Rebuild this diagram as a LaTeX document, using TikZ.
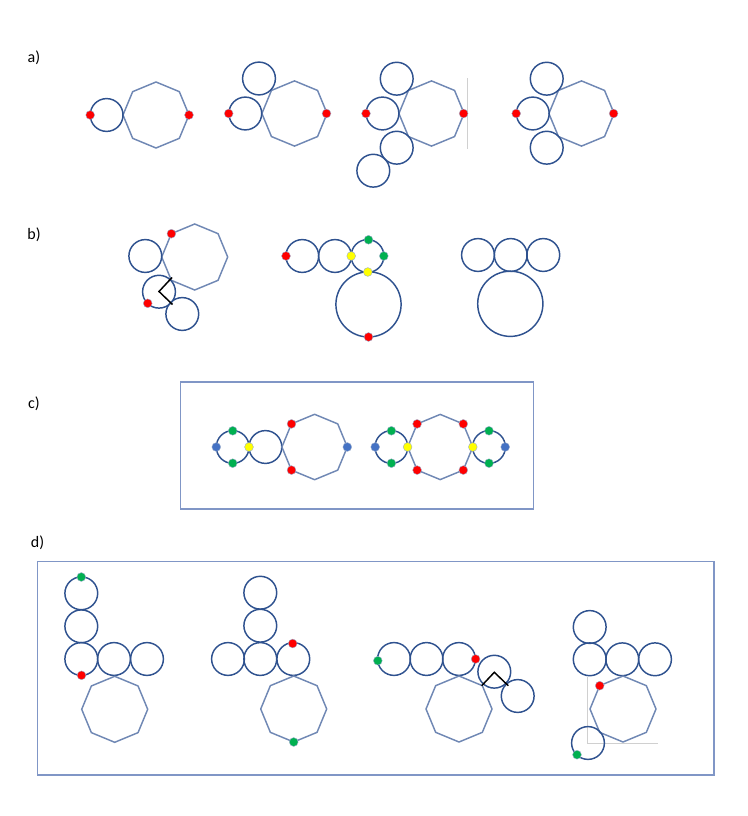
\documentclass[tikz,border=0pt]{standalone}
\usepackage{fontspec}
\setmainfont{Carlito}
\definecolor{cdark}{HTML}{2F528F}
\definecolor{coct}{HTML}{7088B4}
\definecolor{cframe}{HTML}{8096C6}
\definecolor{cred}{HTML}{FF0000}
\definecolor{cgreen}{HTML}{00B050}
\definecolor{cyell}{HTML}{FFFF00}
\definecolor{cblue}{HTML}{4472C4}
\definecolor{cgrayl}{HTML}{D0D0D0}
\newcommand{\octag}[3]{\draw[octline] (#1,#2) +(0:#3) \foreach \a in {45,90,...,315}{ -- +(\a:#3)} -- cycle;}
\newcommand{\rg}[2]{\draw[ring] (#1,#2) circle[radius=16.4];}
\newcommand{\pt}[3]{\filldraw[dotst,fill=#1] (#2,#3) circle[radius=4.4];}
\begin{document}
\begin{tikzpicture}[x=0.75pt,y=-0.75pt,
  ring/.style={draw=cdark,line width=1.1pt},
  octline/.style={draw=coct,line width=1.1pt,line join=miter},
  dotst/.style={draw=coct!70,line width=0.3pt},
  framest/.style={draw=cframe,line width=0.9pt},
  lbl/.style={font=\fontsize{12pt}{14pt}\selectfont,inner sep=0pt},
  bent/.style={draw=black,line width=1.1pt},
  thin/.style={draw=cgrayl,line width=0.6pt}]
\useasboundingbox (0,0) rectangle (747,816);
% labels
\node[lbl] (la) at (34,58) {a)};
\node[lbl] (lb) at (34,235) {b)};
\node[lbl] (lc) at (34,404) {c)};
\node[lbl] (ld) at (37.5,543) {d)};
% ---- row a ----
\octag{156}{115}{33}
\rg{106.6}{115}
\pt{cred}{90.2}{115}
\pt{cred}{189}{115}
%
\octag{294.5}{113.5}{32.6}
\rg{245.3}{113.5}
\rg{259}{78.5}
\pt{cred}{228.7}{113.5}
\pt{cred}{326.5}{113.5}
%
\draw[thin] (467.3,78.3) -- (467.3,149.3);
\octag{431.5}{113.5}{32.6}
\rg{382.5}{113.5}
\rg{396.7}{78.7}
\rg{396.7}{147.7}
\rg{373.3}{170.7}
\pt{cred}{366}{113.5}
\pt{cred}{463.6}{113.5}
%
\octag{581.5}{113.5}{32.6}
\rg{532.8}{113.5}
\rg{546.7}{78.7}
\rg{546.7}{147.7}
\pt{cred}{516.2}{113.5}
\pt{cred}{613.6}{113.5}
% ---- row b ----
\octag{194.7}{257}{33}
\rg{145.3}{256}
\rg{159}{291.7}
\rg{182.3}{314}
\draw[bent] (172,277.5) -- (159,291.5) -- (172.5,304.5);
\pt{cred}{171.4}{233.7}
\pt{cred}{147.7}{303.3}
%
\rg{302.3}{256}
\rg{335}{256}
\rg{367.5}{256}
\draw[ring] (368.5,304.4) circle[radius=32.6];
\pt{cred}{286}{256}
\pt{cred}{368.5}{337}
\pt{cgreen}{368.5}{239.8}
\pt{cgreen}{383.8}{256}
\pt{cyell}{351.2}{256}
\pt{cyell}{367.8}{272}
%
\rg{478}{255}
\rg{510.7}{255}
\rg{543.3}{255}
\draw[ring] (510.3,303.8) circle[radius=32.6];
% ---- row c ----
\draw[framest] (180.3,382) rectangle (533.7,509);
\rg{232.7}{447}
\rg{265.4}{447}
\octag{314.6}{447}{32.7}
\pt{cblue}{216.3}{447}
\pt{cblue}{347.3}{447}
\pt{cgreen}{232.7}{430.8}
\pt{cgreen}{232.7}{463.2}
\pt{cyell}{249}{447}
\pt{cred}{291.5}{423.9}
\pt{cred}{291.5}{470.1}
%
\octag{440.2}{447}{32.6}
\rg{391.4}{447}
\rg{489}{447}
\pt{cblue}{375.2}{447}
\pt{cblue}{505.2}{447}
\pt{cgreen}{391.4}{430.8}
\pt{cgreen}{391.4}{463.2}
\pt{cgreen}{489}{430.8}
\pt{cgreen}{489}{463.2}
\pt{cyell}{407.6}{447}
\pt{cyell}{472.8}{447}
\pt{cred}{417.1}{423.9}
\pt{cred}{463.3}{423.9}
\pt{cred}{417.1}{470.1}
\pt{cred}{463.3}{470.1}
% ---- row d ----
\draw[framest] (37.7,561.7) rectangle (714,775);
\rg{81.3}{593.3}
\rg{81.3}{626.3}
\rg{81.3}{659}
\rg{114}{659}
\rg{147}{659}
\octag{114.7}{709.3}{33}
\pt{cgreen}{81.3}{577}
\pt{cred}{81.5}{675.3}
%
\rg{260.3}{592.7}
\rg{260.3}{625.7}
\rg{228}{659}
\rg{260.3}{659}
\rg{293.3}{659}
\octag{293.7}{709}{33}
\pt{cred}{292.7}{643.5}
\pt{cgreen}{293.7}{742}
%
\rg{394}{659}
\rg{426.5}{659}
\rg{459}{659}
\rg{494.3}{671.7}
\rg{517.7}{696}
\octag{459}{709}{33}
\draw[bent] (481.7,685.7) -- (494.3,672.3) -- (508.3,685.7);
\pt{cgreen}{377.8}{660.7}
\pt{cred}{475.6}{659}
%
\draw[thin] (587.3,676.7) -- (587.3,743.7) -- (658.3,743.7);
\rg{589.7}{627}
\rg{589.7}{659.3}
\rg{622.3}{659.3}
\rg{655}{659.3}
\octag{623}{709}{33}
\rg{588}{743}
\pt{cred}{599.7}{685.7}
\pt{cgreen}{577}{754.7}
\end{tikzpicture}
\end{document}
